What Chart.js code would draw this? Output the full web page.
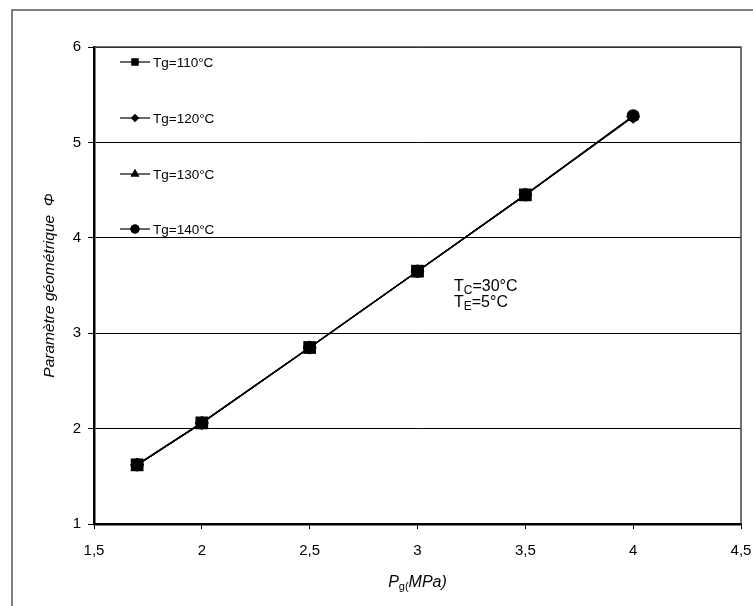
<!DOCTYPE html>
<html>
<head>
<meta charset="utf-8">
<script src="https://cdn.jsdelivr.net/npm/chart.js@4/dist/chart.umd.min.js"></script>
<style>
  html, body { margin: 0; padding: 0; background: #fff; }
  #wrap { width: 753px; height: 606px; }
</style>
</head>
<body>
<div id="wrap"><canvas id="chart" width="753" height="606"></canvas></div>
<script>
// valeurs (les quatre courbes se superposent)
const pressions = [1.7, 2, 2.5, 3, 3.5, 4];
const serie110 = [1.62, 2.06, 2.85, 3.65, 4.45, null];
const serie120 = [1.62, 2.06, 2.85, 3.65, 4.45, 5.27];
const serie130 = [1.62, 2.06, 2.85, 3.65, 4.45, 5.27];
const serie140 = [1.62, 2.06, 2.85, 3.65, 4.45, 5.28];
const etiquettes = ['Tg=110°C', 'Tg=120°C', 'Tg=130°C', 'Tg=140°C'];
const xTicks = [1.5, 2, 2.5, 3, 3.5, 4, 4.5];
const yTicks = [1, 2, 3, 4, 5, 6];

const FONT = "'Liberation Sans', Arial, sans-serif";

function points(values) {
    return pressions.map((x, i) => ({ x: x, y: values[i] }));
}

function makeDataset(label, values, style, radius, legendRadius) {
    return {
        label: label,
        data: points(values),
        borderColor: '#000',
        backgroundColor: '#000',
        borderWidth: 1.3,
        pointStyle: style,
        pointRadius: radius,
        pointBorderWidth: 0,
        legendRadius: legendRadius,
        spanGaps: true,
        tension: 0
    };
}

// cadre extérieur, bord du graphe, titres, légende et annotation
const decorPlugin = {
    id: 'decor',
    beforeDraw(chart) {
        const ctx = chart.ctx;
        ctx.save();
        ctx.strokeStyle = '#555';
        ctx.lineWidth = 1.5;
        ctx.beginPath();
        ctx.moveTo(12, 620);
        ctx.lineTo(12, 10);
        ctx.lineTo(760, 10);
        ctx.stroke();
        ctx.restore();
    },
    afterDraw(chart) {
        const ctx = chart.ctx;
        const a = chart.chartArea;
        ctx.save();

        // bord haut / droit de la zone de tracé
        ctx.strokeStyle = '#444';
        ctx.lineWidth = 1.5;
        ctx.beginPath();
        ctx.moveTo(a.left, a.top);
        ctx.lineTo(a.right, a.top);
        ctx.lineTo(a.right, a.bottom);
        ctx.stroke();

        ctx.fillStyle = '#000';

        // titre axe Y
        ctx.save();
        ctx.translate(50, (a.top + a.bottom) / 2);
        ctx.rotate(-Math.PI / 2);
        ctx.font = 'italic 15.5px ' + FONT;
        ctx.textAlign = 'center';
        ctx.textBaseline = 'middle';
        ctx.fillText('Paramètre géométrique  Φ', 0, 0);
        ctx.restore();

        // titre axe X : P g( MPa)
        const cx = (a.left + a.right) / 2;
        const base = 587;
        ctx.textBaseline = 'alphabetic';
        ctx.textAlign = 'left';
        const p1 = 'P', p2 = 'g(', p3 = 'MPa)';
        ctx.font = 'italic 16px ' + FONT;
        const w1 = ctx.measureText(p1).width;
        const w3 = ctx.measureText(p3).width;
        ctx.font = '11px ' + FONT;
        const w2 = ctx.measureText(p2).width;
        let x0 = cx - (w1 + w2 + w3) / 2;
        ctx.font = 'italic 16px ' + FONT;
        ctx.fillText(p1, x0, base);
        ctx.font = '11px ' + FONT;
        ctx.fillText(p2, x0 + w1, base + 3);
        ctx.font = 'italic 16px ' + FONT;
        ctx.fillText(p3, x0 + w1 + w2, base);

        // annotation TC / TE
        function subText(main, sub, rest, x, y) {
            ctx.font = '16px ' + FONT;
            ctx.fillText(main, x, y);
            let w = ctx.measureText(main).width;
            ctx.font = '12px ' + FONT;
            ctx.fillText(sub, x + w, y + 3);
            w += ctx.measureText(sub).width;
            ctx.font = '16px ' + FONT;
            ctx.fillText(rest, x + w, y);
        }
        subText('T', 'C', '=30°C', 454, 291);
        subText('T', 'E', '=5°C', 454, 307);

        // légende
        const legY = [62, 118, 174, 229];
        chart.data.datasets.forEach((ds, i) => {
            const y = legY[i];
            ctx.strokeStyle = '#000';
            ctx.lineWidth = 1.2;
            ctx.beginPath();
            ctx.moveTo(120, y);
            ctx.lineTo(150, y);
            ctx.stroke();
            Chart.helpers.drawPoint(ctx, {
                pointStyle: ds.pointStyle,
                radius: ds.legendRadius,
                borderWidth: 0,
                rotation: 0
            }, 135, y);
            ctx.fillStyle = '#000';
            ctx.fill();
            ctx.font = '13.5px ' + FONT;
            ctx.textAlign = 'left';
            ctx.textBaseline = 'middle';
            ctx.fillText(ds.label, 153, y + 1);
        });

        ctx.restore();
    }
};

const ctx = document.getElementById('chart').getContext('2d');

new Chart(ctx, {
    type: 'line',
    data: {
        datasets: [
            makeDataset(etiquettes[0], serie110, 'rect', 9, 5),
            makeDataset(etiquettes[1], serie120, 'rectRot', 7, 4),
            makeDataset(etiquettes[2], serie130, 'triangle', 7, 5),
            makeDataset(etiquettes[3], serie140, 'circle', 6.5, 4.5)
        ]
    },
    options: {
        responsive: false,
        animation: false,
        layout: { padding: { left: 0, top: 47, right: 0, bottom: 0 } },
        plugins: {
            legend: { display: false },
            tooltip: { enabled: false }
        },
        scales: {
            x: {
                type: 'linear',
                min: 1.5,
                max: 4.5,
                afterBuildTicks: scale => { scale.ticks = xTicks.map(v => ({ value: v })); },
                afterFit: scale => { scale.height = 82; scale.paddingRight = 12; },
                ticks: {
                    color: '#000',
                    font: { family: FONT, size: 15 },
                    padding: 13,
                    maxRotation: 0,
                    callback: v => String(v).replace('.', ',')
                },
                grid: {
                    drawOnChartArea: false,
                    color: '#000',
                    tickLength: 5,
                    tickWidth: 1
                },
                border: { color: '#000', width: 2.5 }
            },
            y: {
                type: 'linear',
                min: 1,
                max: 6,
                afterBuildTicks: scale => { scale.ticks = yTicks.map(v => ({ value: v })); },
                afterFit: scale => { scale.width = 94; },
                ticks: {
                    color: '#000',
                    font: { family: FONT, size: 15 },
                    padding: 7,
                    callback: v => String(v).replace('.', ',')
                },
                grid: {
                    color: '#000',
                    lineWidth: 1,
                    tickLength: 6
                },
                border: { color: '#000', width: 2.5 }
            }
        }
    },
    plugins: [decorPlugin]
});
</script>
</body>
</html>
